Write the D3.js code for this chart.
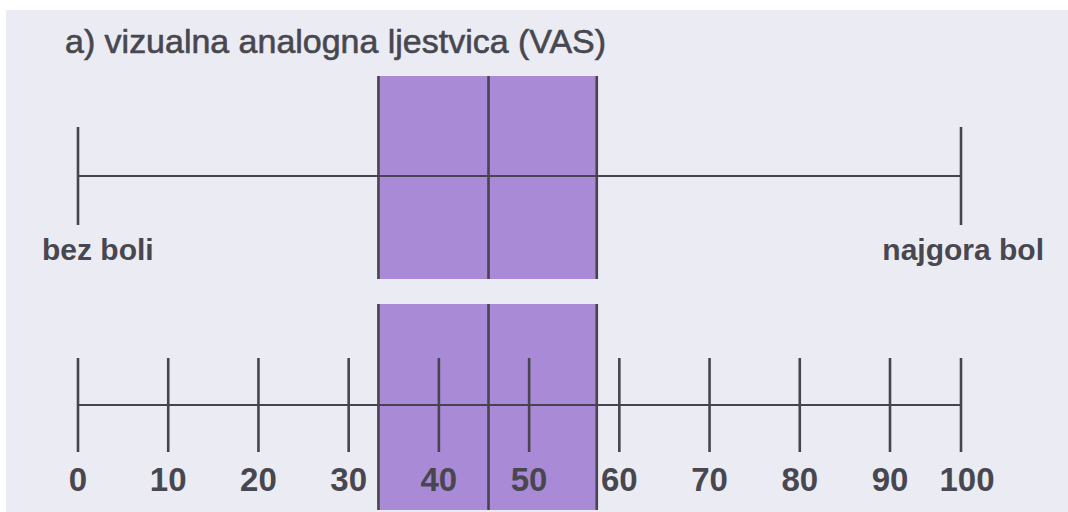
<!DOCTYPE html>
<html lang="en">
<head>
<meta charset="UTF-8">
<title>VAS</title>
<script type="text/javascript" src="https://d3js.org/d3.v7.min.js"></script>
<style>
  body { margin: 0; background: #ffffff; }
  text { font-family: "Liberation Sans", Arial, sans-serif; fill: #48474f; }
</style>
</head>
<body>
<script>
  // values
  const title = "a) vizualna analogna ljestvica (VAS)"
  const endLabels = ["bez boli", "najgora bol"]
  const endValues = [0, 100]
  const tickValues = [0, 10, 20, 30, 40, 50, 60, 70, 80, 90, 100]
  const tickLabels = ["0", "10", "20", "30", "40", "50", "60", "70", "80", "90", "100"]
  const boxEdges = [33.3, 45.5, 57.5]   // q1, median, q3

  const W = 1068, H = 512
  const ink = "#47444f"

  // the printed scale is not even: last step (90-100) is shorter
  let x = d3.scaleLinear()
      .domain([0, 90, 100])
      .range([78, 890, 961])

  let svg = d3.select("body")
      .append("svg")
      .attr("width", W)
      .attr("height", H)

  svg.append("rect")
      .attr("x", 6).attr("y", 10)
      .attr("width", W - 6).attr("height", H - 10)
      .attr("fill", "#eaebf3")

  svg.append("text")
      .attr("x", 65).attr("y", 53)
      .attr("textLength", 541)
      .attr("lengthAdjust", "spacingAndGlyphs")
      .style("font-size", "34px")
      .style("stroke", "#48474f")
      .style("stroke-width", 0.6)
      .text(title)

  function drawBox(g, top, bottom) {
    let pairs = d3.pairs(boxEdges)
    g.selectAll(".half")
      .data(pairs)
      .enter()
        .append("rect")
        .classed("half", true)
        .attr("x", (d) => {return x(d[0])})
        .attr("y", top)
        .attr("width", (d) => {return x(d[1]) - x(d[0])})
        .attr("height", bottom - top)
        .attr("fill", "#a98ad6")
  }

  function drawEdges(g, top, bottom) {
    g.selectAll(".edge")
      .data(boxEdges)
      .enter()
        .append("line")
        .classed("edge", true)
        .attr("x1", (d) => {return x(d)}).attr("x2", (d) => {return x(d)})
        .attr("y1", top).attr("y2", bottom)
        .attr("stroke", ink)
        .attr("stroke-width", 2.6)
  }

  // upper scale: plain line with end labels
  let upper = svg.append("g")
  drawBox(upper, 76, 279)
  upper.append("line")
      .attr("x1", x(0)).attr("x2", x(100))
      .attr("y1", 176).attr("y2", 176)
      .attr("stroke", ink).attr("stroke-width", 2.2)
  upper.selectAll(".end")
      .data(endValues)
      .enter()
        .append("line")
        .classed("end", true)
        .attr("x1", (d) => {return x(d)}).attr("x2", (d) => {return x(d)})
        .attr("y1", 127).attr("y2", 225)
        .attr("stroke", ink).attr("stroke-width", 2.6)
  drawEdges(upper, 76, 279)

  upper.selectAll(".endlabel")
      .data(endLabels)
      .enter()
        .append("text")
        .classed("endlabel", true)
        .attr("x", (d, i) => {return i === 0 ? 42 : 1044})
        .attr("y", 260)
        .attr("text-anchor", (d, i) => {return i === 0 ? "start" : "end"})
        .style("font-size", "30px")
        .style("font-weight", "bold")
        .text((d) => {return d})

  // lower scale: numbered ticks
  let lower = svg.append("g")
  drawBox(lower, 304, 510)
  lower.append("line")
      .attr("x1", x(0)).attr("x2", x(100))
      .attr("y1", 405).attr("y2", 405)
      .attr("stroke", ink).attr("stroke-width", 2.2)
  lower.selectAll(".tick")
      .data(tickValues)
      .enter()
        .append("line")
        .classed("tick", true)
        .attr("x1", (d) => {return x(d)}).attr("x2", (d) => {return x(d)})
        .attr("y1", 358).attr("y2", 452)
        .attr("stroke", ink).attr("stroke-width", 2.6)
  drawEdges(lower, 304, 510)

  lower.selectAll(".ticklabel")
      .data(tickValues)
      .enter()
        .append("text")
        .classed("ticklabel", true)
        .attr("x", (d) => {return x(d)})
        .attr("dx", (d) => {return d === 100 ? 6 : 0})
        .attr("y", 491)
        .attr("text-anchor", "middle")
        .style("font-size", "33px")
        .style("font-weight", "bold")
        .text((d, i) => {return tickLabels[i]})
</script>
</body>
</html>
